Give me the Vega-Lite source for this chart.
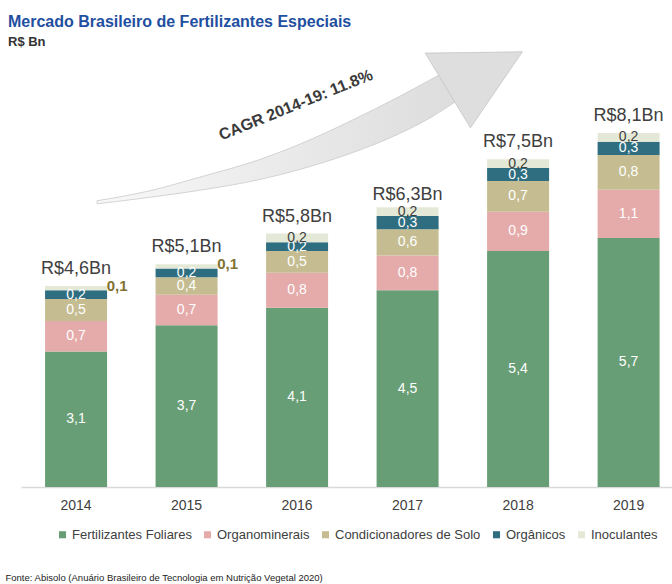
{
  "$schema": "https://vega.github.io/schema/vega-lite/v6.json",
  "width": 651,
  "height": 437,
  "autosize": {"type": "none"},
  "padding": {"left": 21, "top": 50, "right": 0, "bottom": 97},
  "config": {
    "font": "Liberation Sans",
    "view": {"stroke": null},
    "locale": {"number": {"decimal": ",", "thousands": ".", "grouping": [3], "currency": ["R$", "Bn"]}}
  },
  "title": {
    "text": "Mercado Brasileiro de Fertilizantes Especiais",
    "subtitle": "R$ Bn",
    "anchor": "start",
    "frame": "group",
    "dx": -13,
    "offset": 1,
    "font": "Liberation Sans",
    "fontSize": 16,
    "fontWeight": "bold",
    "color": "#1f4fa0",
    "subtitleFont": "Liberation Sans",
    "subtitleFontSize": 13,
    "subtitleFontWeight": "bold",
    "subtitleColor": "#333333",
    "subtitlePadding": 6
  },
  "datasets": {
    "mercado": [
      {"ano": "2014", "serie": "Fertilizantes Foliares", "ord": 1, "valor": 3.1},
      {"ano": "2014", "serie": "Organominerais", "ord": 2, "valor": 0.7},
      {"ano": "2014", "serie": "Condicionadores de Solo", "ord": 3, "valor": 0.5},
      {"ano": "2014", "serie": "Orgânicos", "ord": 4, "valor": 0.2},
      {"ano": "2014", "serie": "Inoculantes", "ord": 5, "valor": 0.1},
      {"ano": "2015", "serie": "Fertilizantes Foliares", "ord": 1, "valor": 3.7},
      {"ano": "2015", "serie": "Organominerais", "ord": 2, "valor": 0.7},
      {"ano": "2015", "serie": "Condicionadores de Solo", "ord": 3, "valor": 0.4},
      {"ano": "2015", "serie": "Orgânicos", "ord": 4, "valor": 0.2},
      {"ano": "2015", "serie": "Inoculantes", "ord": 5, "valor": 0.1},
      {"ano": "2016", "serie": "Fertilizantes Foliares", "ord": 1, "valor": 4.1},
      {"ano": "2016", "serie": "Organominerais", "ord": 2, "valor": 0.8},
      {"ano": "2016", "serie": "Condicionadores de Solo", "ord": 3, "valor": 0.5},
      {"ano": "2016", "serie": "Orgânicos", "ord": 4, "valor": 0.2},
      {"ano": "2016", "serie": "Inoculantes", "ord": 5, "valor": 0.2},
      {"ano": "2017", "serie": "Fertilizantes Foliares", "ord": 1, "valor": 4.5},
      {"ano": "2017", "serie": "Organominerais", "ord": 2, "valor": 0.8},
      {"ano": "2017", "serie": "Condicionadores de Solo", "ord": 3, "valor": 0.6},
      {"ano": "2017", "serie": "Orgânicos", "ord": 4, "valor": 0.3},
      {"ano": "2017", "serie": "Inoculantes", "ord": 5, "valor": 0.2},
      {"ano": "2018", "serie": "Fertilizantes Foliares", "ord": 1, "valor": 5.4},
      {"ano": "2018", "serie": "Organominerais", "ord": 2, "valor": 0.9},
      {"ano": "2018", "serie": "Condicionadores de Solo", "ord": 3, "valor": 0.7},
      {"ano": "2018", "serie": "Orgânicos", "ord": 4, "valor": 0.3},
      {"ano": "2018", "serie": "Inoculantes", "ord": 5, "valor": 0.2},
      {"ano": "2019", "serie": "Fertilizantes Foliares", "ord": 1, "valor": 5.7},
      {"ano": "2019", "serie": "Organominerais", "ord": 2, "valor": 1.1},
      {"ano": "2019", "serie": "Condicionadores de Solo", "ord": 3, "valor": 0.8},
      {"ano": "2019", "serie": "Orgânicos", "ord": 4, "valor": 0.3},
      {"ano": "2019", "serie": "Inoculantes", "ord": 5, "valor": 0.2}
    ],
    "totais": [
      {"ano": "2014", "total": 4.6},
      {"ano": "2015", "total": 5.1},
      {"ano": "2016", "total": 5.8},
      {"ano": "2017", "total": 6.3},
      {"ano": "2018", "total": 7.5},
      {"ano": "2019", "total": 8.1}
    ],
    "seta_corpo": [
      {"t": 2014.19, "sup": 6.55, "inf": 6.48},
      {"t": 2014.67, "sup": 6.78, "inf": 6.63},
      {"t": 2015.12, "sup": 7.09, "inf": 6.79},
      {"t": 2015.67, "sup": 7.50, "inf": 7.04},
      {"t": 2016.03, "sup": 7.85, "inf": 7.27},
      {"t": 2016.48, "sup": 8.37, "inf": 7.63},
      {"t": 2016.93, "sup": 8.94, "inf": 8.09},
      {"t": 2017.20, "sup": 9.31, "inf": 8.44},
      {"t": 2017.43, "sup": 9.62, "inf": 8.81}
    ],
    "seta_ponta": [
      {"t": 2017.16, "sup": 9.93, "inf": 9.93},
      {"t": 2017.57, "sup": 9.94, "inf": 8.22},
      {"t": 2018.04, "sup": 9.96, "inf": 9.96}
    ],
    "cagr": [
      {"t": 2015.99, "v": 8.74, "texto": "CAGR 2014-19: 11.8%"}
    ]
  },
  "layer": [
    {
      "layer": [
        {
          "data": {"name": "seta_corpo"},
          "mark": {
            "type": "area",
            "orient": "vertical",
            "interpolate": "monotone",
            "fill": {"gradient": "linear", "x1": 0, "x2": 1, "y1": 0, "y2": 0, "stops": [{"offset": 0, "color": "#f8f8f8"}, {"offset": 1, "color": "#dddddd"}]},
            "stroke": "#c9c9c9",
            "strokeWidth": 0.8
          },
          "encoding": {
            "x": {"field": "t", "type": "quantitative", "scale": {"domain": [2013.502, 2019.394], "nice": false, "zero": false}, "axis": null},
            "y": {"field": "sup", "type": "quantitative", "scale": {"domain": [0, 10]}, "axis": null},
            "y2": {"field": "inf"}
          }
        },
        {
          "data": {"name": "seta_ponta"},
          "mark": {"type": "area", "orient": "vertical", "interpolate": "linear", "fill": "#dedede", "stroke": "#c4c4c4", "strokeWidth": 0.8},
          "encoding": {
            "x": {"field": "t", "type": "quantitative", "scale": {"domain": [2013.502, 2019.394], "nice": false, "zero": false}, "axis": null},
            "y": {"field": "sup", "type": "quantitative", "scale": {"domain": [0, 10]}, "axis": null},
            "y2": {"field": "inf"}
          }
        },
        {
          "data": {"name": "cagr"},
          "mark": {"type": "text", "angle": -22, "fontSize": 16, "fontWeight": "bold", "color": "#3a3a3a", "align": "center", "baseline": "middle"},
          "encoding": {
            "x": {"field": "t", "type": "quantitative", "scale": {"domain": [2013.502, 2019.394], "nice": false, "zero": false}, "axis": null},
            "y": {"field": "v", "type": "quantitative", "scale": {"domain": [0, 10]}, "axis": null},
            "text": {"field": "texto"}
          }
        }
      ]
    },
    {
      "layer": [
        {
          "data": {"name": "mercado"},
          "mark": {"type": "bar"},
          "encoding": {
            "x": {
              "field": "ano",
              "type": "ordinal",
              "scale": {"paddingInner": 0.439, "paddingOuter": 0.165, "align": 0.66},
              "axis": {
                "title": "Fonte: Abisolo (Anuário Brasileiro de Tecnologia em Nutrição Vegetal 2020)",
                "titleFontSize": 9.5,
                "titleFontWeight": "normal",
                "titleColor": "#222222",
                "titleAnchor": "start",
                "titleAlign": "left",
                "titleBaseline": "middle",
                "titleX": -16,
                "titleY": 90,
                "labelFontSize": 14,
                "labelColor": "#404040",
                "labelPadding": 11,
                "labelAngle": 0,
                "ticks": false,
                "grid": false,
                "domainColor": "#d9d9d9",
                "domainWidth": 1.5
              }
            },
            "y": {"field": "valor", "type": "quantitative", "stack": "zero", "scale": {"domain": [0, 10]}, "axis": null},
            "order": {"field": "ord"},
            "color": {
              "field": "serie",
              "type": "nominal",
              "scale": {
                "domain": ["Fertilizantes Foliares", "Organominerais", "Condicionadores de Solo", "Orgânicos", "Inoculantes"],
                "range": ["#689e76", "#e5aaaa", "#c5bd91", "#2e6e80", "#e4e8d6"]
              },
              "legend": {
                "orient": "none",
                "legendX": 35,
                "legendY": 478,
                "direction": "horizontal",
                "title": null,
                "symbolType": "square",
                "symbolSize": 50,
                "symbolStrokeWidth": 0,
                "labelFontSize": 13,
                "labelColor": "#404040",
                "labelOffset": 3,
                "columnPadding": 9
              }
            }
          }
        },
        {
          "data": {"name": "mercado"},
          "mark": {"type": "text", "fontSize": 14, "align": "center", "baseline": "middle"},
          "encoding": {
            "x": {"field": "ano", "type": "ordinal"},
            "y": {"field": "valor", "type": "quantitative", "stack": "zero", "bandPosition": 0.5, "scale": {"domain": [0, 10]}},
            "detail": {"field": "serie"},
            "order": {"field": "ord"},
            "text": {"field": "valor", "type": "quantitative", "format": ".1f"},
            "color": {"condition": {"test": "datum.serie === 'Inoculantes'", "value": "#404040"}, "value": "#ffffff"},
            "opacity": {"condition": {"test": "datum.serie === 'Inoculantes' && datum.valor < 0.15", "value": 0}, "value": 1}
          }
        },
        {
          "data": {"name": "mercado"},
          "mark": {"type": "text", "fontSize": 15, "fontWeight": "bold", "align": "center", "baseline": "middle", "dx": 41, "color": "#7f7230"},
          "encoding": {
            "x": {"field": "ano", "type": "ordinal"},
            "y": {"field": "valor", "type": "quantitative", "stack": "zero", "scale": {"domain": [0, 10]}},
            "detail": {"field": "serie"},
            "order": {"field": "ord"},
            "text": {"field": "valor", "type": "quantitative", "format": ".1f"},
            "opacity": {"condition": {"test": "datum.serie === 'Inoculantes' && datum.valor < 0.15", "value": 1}, "value": 0}
          }
        },
        {
          "data": {"name": "totais"},
          "mark": {"type": "text", "fontSize": 18, "align": "center", "baseline": "middle", "dy": -17, "color": "#404040"},
          "encoding": {
            "x": {"field": "ano", "type": "ordinal"},
            "y": {"field": "total", "type": "quantitative", "scale": {"domain": [0, 10]}},
            "text": {"field": "total", "type": "quantitative", "format": "$.1f"}
          }
        }
      ]
    }
  ],
  "resolve": {"scale": {"x": "independent"}}
}
